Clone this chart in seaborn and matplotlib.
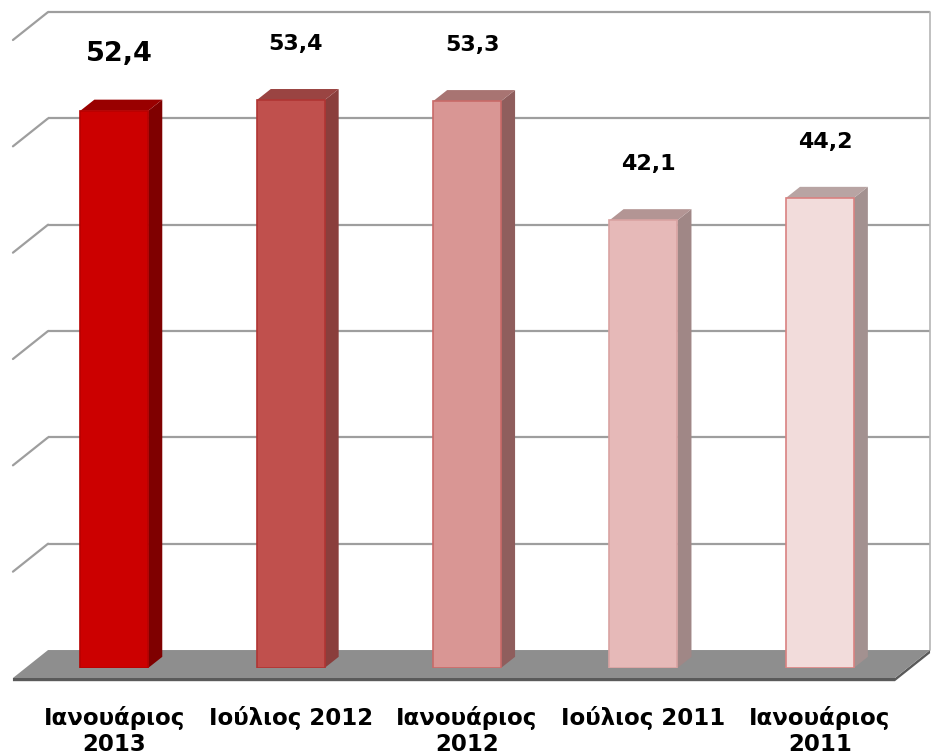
import matplotlib
matplotlib.use("Agg")
import matplotlib.pyplot as plt
from matplotlib.patches import Polygon
import seaborn as sns

# --- data ---
categories = ["Ιανουάριος\n2013", "Ιούλιος 2012", "Ιανουάριος\n2012",
              "Ιούλιος 2011", "Ιανουάριος\n2011"]
values = [52.4, 53.4, 53.3, 42.1, 44.2]
value_labels = ["52,4", "53,4", "53,3", "42,1", "44,2"]

# --- styling ---
front_colors = ["#CC0000", "#C0504D", "#D99694", "#E6B9B8", "#F2DCDB"]
top_colors = ["#990000", "#9A4442", "#A87472", "#B39594", "#B8A4A3"]
side_colors = ["#7F0000", "#8A3E3C", "#8F5E5D", "#A08786", "#A39190"]
edge_colors = ["#B80000", "#B03533", "#C96A68", "#D9A3A2", "#D98281"]
label_sizes = [19.5, 16, 16, 16, 16]

sns.set_style("white")
plt.rcParams["font.family"] = ["DejaVu Sans"]

fig = plt.figure(figsize=(9.34, 7.56), dpi=100)
ax = fig.add_axes([26 / 934, 88 / 756, 882 / 934, 638 / 756])

sns.barplot(x=categories, y=values, hue=categories, palette=front_colors,
            legend=False, width=0.385, saturation=1, ax=ax, zorder=5,
            linewidth=1.2)

ax.set_xlim(-0.5, 4.5)
ax.set_ylim(0, 60)

# pseudo 3D geometry (in data units)
dx, dy = 0.08, 1.05          # bar depth
fx, fy = -0.074, -0.94       # floor front edge relative to bar plane
bx, by = 0.125, 1.69         # back wall relative to bar plane
grid_c = "#9E9E9E"

# back wall gridlines + left side diagonals
for k in range(1, 7):
    yv = k * 10
    ax.plot([-0.5 + bx, 4.5 + bx], [yv + by, yv + by], color=grid_c, lw=1.6,
            clip_on=False, zorder=0, solid_capstyle="butt")
    ax.plot([-0.5 + fx, -0.5 + bx], [yv + fy, yv + by], color=grid_c, lw=1.6,
            clip_on=False, zorder=0)
ax.plot([4.5 + bx, 4.5 + bx], [by, 60 + by], color="#B5B5B5", lw=1.2,
        clip_on=False, zorder=0)

# floor slab
slab = Polygon([(-0.5 + fx, fy), (4.5 + fx, fy), (4.5 + bx, by), (4.5 + bx, by - 0.3),
                (4.5 + fx, fy - 0.3), (-0.5 + fx, fy - 0.3)],
               closed=True, facecolor="#5A5A5A", edgecolor="none",
               clip_on=False, zorder=1)
ax.add_patch(slab)
ax.add_patch(Polygon([(-0.5 + fx, fy), (4.5 + fx, fy), (4.5 + bx, by), (-0.5 + bx, by)],
                     closed=True, facecolor="#8E8E8E", edgecolor="none",
                     clip_on=False, zorder=1.5))

# 3D faces of the bars
bars = [p for p in ax.patches if p.get_zorder() == 5]
for i, bar in enumerate(bars):
    bar.set_edgecolor(edge_colors[i])
    x0 = bar.get_x()
    x1 = x0 + bar.get_width()
    h = bar.get_height()
    side = Polygon([(x1, 0), (x1 + dx, dy), (x1 + dx, h + dy), (x1, h)],
                   closed=True, facecolor=side_colors[i], edgecolor="none",
                   zorder=4, clip_on=False)
    top = Polygon([(x0, h), (x1, h), (x1 + dx, h + dy), (x0 + dx, h + dy)],
                  closed=True, facecolor=top_colors[i], edgecolor="none",
                  zorder=4, clip_on=False)
    ax.add_patch(side)
    ax.add_patch(top)
    xc = x0 + bar.get_width() / 2 + 0.03
    ax.text(xc, h + 5.3, value_labels[i], ha="center", va="center",
            fontsize=label_sizes[i], fontweight="bold", color="black", zorder=6)

ax.set_xlabel("")
ax.set_ylabel("")
ax.set_yticks([])
ax.tick_params(axis="x", length=0, pad=27)
for t in ax.get_xticklabels():
    t.set_fontsize(16.5)
    t.set_fontweight("bold")
    t.set_color("black")
    t.set_linespacing(1.2)
for s in ax.spines.values():
    s.set_visible(False)

fig.savefig("out.png", dpi=100)
